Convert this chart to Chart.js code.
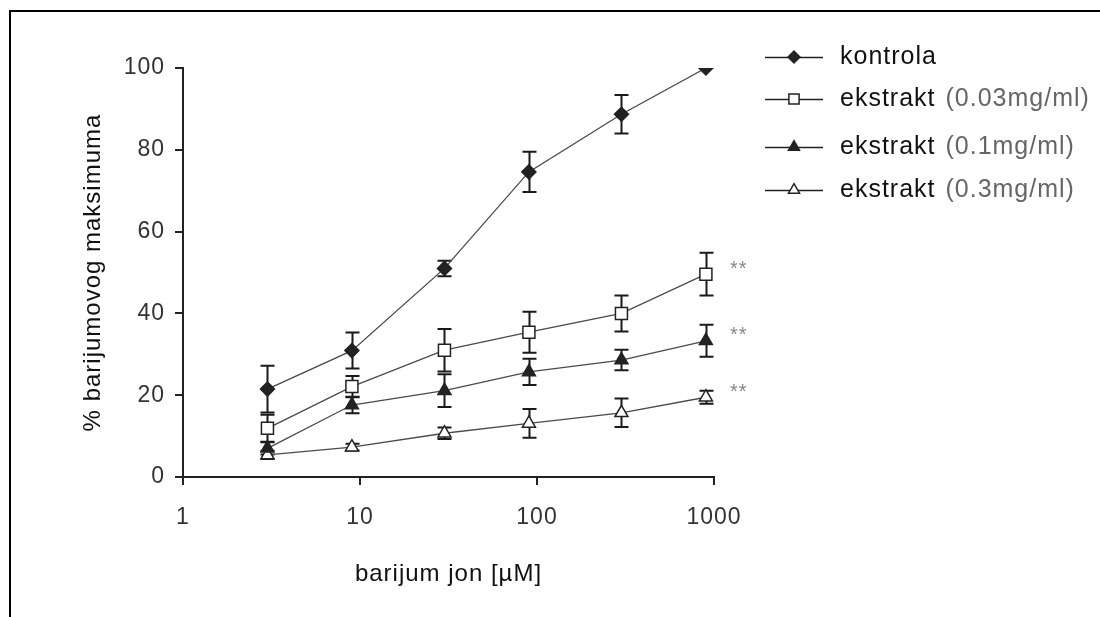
<!DOCTYPE html>
<html>
<head>
<meta charset="utf-8">
<script src="https://cdn.jsdelivr.net/npm/chart.js@4.4.1/dist/chart.umd.min.js"></script>
<style>
  html, body { margin: 0; padding: 0; background: #fff; }
  #wrap { position: relative; width: 1100px; height: 617px; }
</style>
</head>
<body>
<div id="wrap"><canvas id="c" width="1100" height="617"></canvas></div>
<script>
// ---- data ----
const concentrations = [3, 9, 30, 90, 300, 900];
const kontrola      = [21.5, 30.9, 51.0, 74.6, 88.7, 100];
const kontrolaErr   = [5.7, 4.4, 1.9, 4.9, 4.7, 0];
const ekstrakt003    = [11.9, 22.1, 31.0, 35.4, 40.0, 49.6];
const ekstrakt003Err = [3.3, 2.6, 5.2, 5.0, 4.4, 5.2];
const ekstrakt01     = [7.0, 17.6, 21.1, 25.7, 28.6, 33.3];
const ekstrakt01Err  = [1.5, 2.0, 4.0, 3.2, 2.5, 3.9];
const ekstrakt03     = [5.4, 7.3, 10.7, 13.1, 15.7, 19.5];
const ekstrakt03Err  = [1.0, 0.8, 1.4, 3.5, 3.5, 1.6];
const xTicks = [1, 10, 100, 1000];
const legendMain = ['kontrola', 'ekstrakt', 'ekstrakt', 'ekstrakt'];
const legendSub  = ['', '(0.03mg/ml)', '(0.1mg/ml)', '(0.3mg/ml)'];
const significance = ['', '**', '**', '**'];
const xTitle = 'barijum jon [µM]';
const yTitle = '% barijumovog maksimuma';

const seriesValues = [kontrola, ekstrakt003, ekstrakt01, ekstrakt03];
const seriesErrors = [kontrolaErr, ekstrakt003Err, ekstrakt01Err, ekstrakt03Err];

// ---- styles ----
const styles = [
  { pointStyle: 'rectRot', radius: 7, bg: '#222', border: '#222' },
  { pointStyle: 'rect', radius: 8.5, bg: '#fff', border: '#222' },
  { pointStyle: 'triangle', radius: 7.5, bg: '#222', border: '#222' },
  { pointStyle: 'triangle', radius: 7.5, bg: '#fff', border: '#222' }
];
const FONT = '"Liberation Sans", Arial, sans-serif';
const SPACING = '1px';
const FS_TICK = 23;
const FS_TITLE = 24;
const FS_LEGEND = 25;

const datasets = seriesValues.map((vals, i) => ({
  label: legendMain[i] + (legendSub[i] ? ' ' + legendSub[i] : ''),
  data: vals.map((v, j) => ({ x: concentrations[j], y: v })),
  errors: seriesErrors[i],
  borderColor: '#4a4a4a',
  borderWidth: 1.3,
  pointStyle: styles[i].pointStyle,
  pointRadius: styles[i].radius,
  pointBackgroundColor: styles[i].bg,
  pointBorderColor: styles[i].border,
  pointBorderWidth: 1.5,
  tension: 0,
  fill: false
}));

const spacingPlugin = {
  id: 'spacing',
  beforeUpdate(chart) { chart.ctx.letterSpacing = SPACING; },
  beforeLayout(chart) { chart.ctx.letterSpacing = SPACING; },
  beforeDraw(chart) { chart.ctx.letterSpacing = SPACING; }
};

const errorBars = {
  id: 'errorBars',
  beforeDatasetsDraw(chart) {
    const { ctx, scales: { x, y } } = chart;
    ctx.save();
    ctx.strokeStyle = '#1a1a1a';
    ctx.lineWidth = 2;
    chart.data.datasets.forEach(ds => {
      ds.data.forEach((p, j) => {
        const e = ds.errors[j];
        if (!e) return;
        const px = Math.round(x.getPixelForValue(p.x)) + 0.5;
        const top = y.getPixelForValue(p.y + e);
        const bot = y.getPixelForValue(p.y - e);
        const cap = 7;
        ctx.beginPath();
        ctx.moveTo(px, top); ctx.lineTo(px, bot);
        ctx.moveTo(px - cap, top); ctx.lineTo(px + cap, top);
        ctx.moveTo(px - cap, bot); ctx.lineTo(px + cap, bot);
        ctx.stroke();
      });
    });
    ctx.restore();
  }
};

function drawMarker(ctx, style, r, cx, cy) {
  if (style === 'rectRot') {
    ctx.moveTo(cx - r, cy); ctx.lineTo(cx, cy - r); ctx.lineTo(cx + r, cy); ctx.lineTo(cx, cy + r); ctx.closePath();
  } else if (style === 'rect') {
    const s = r * Math.SQRT1_2;
    ctx.rect(cx - s, cy - s, 2 * s, 2 * s);
  } else {
    const a = r * Math.sin(Math.PI / 3);
    ctx.moveTo(cx, cy - r); ctx.lineTo(cx + a, cy + r / 2); ctx.lineTo(cx - a, cy + r / 2); ctx.closePath();
  }
}

const extras = {
  id: 'extras',
  afterDraw(chart) {
    const { ctx, scales: { x, y } } = chart;
    ctx.save();
    // frame (top and left edges)
    ctx.strokeStyle = '#000';
    ctx.lineWidth = 2;
    ctx.beginPath();
    ctx.moveTo(10, 617); ctx.lineTo(10, 11); ctx.lineTo(1100, 11);
    ctx.stroke();

    // significance marks
    ctx.letterSpacing = '1px';
    ctx.fillStyle = '#888';
    ctx.font = '20px ' + FONT;
    ctx.textAlign = 'left';
    ctx.textBaseline = 'middle';
    chart.data.datasets.forEach((ds, i) => {
      if (!significance[i]) return;
      const last = ds.data[ds.data.length - 1];
      const px = x.getPixelForValue(last.x) + 24;
      const py = y.getPixelForValue(last.y) - 5;
      ctx.fillText(significance[i], px, py);
    });

    // legend
    ctx.letterSpacing = SPACING;
    const rows = [57, 99, 147, 190];
    chart.data.datasets.forEach((ds, i) => {
      const yy = rows[i];
      ctx.strokeStyle = '#222';
      ctx.lineWidth = 1.5;
      ctx.beginPath();
      ctx.moveTo(765, yy + 0.5); ctx.lineTo(823, yy + 0.5);
      ctx.stroke();
      ctx.fillStyle = ds.pointBackgroundColor;
      ctx.strokeStyle = ds.pointBorderColor;
      ctx.lineWidth = 1.5;
      ctx.beginPath();
      drawMarker(ctx, ds.pointStyle, ds.pointRadius * 0.85, 794, yy);
      ctx.fill(); ctx.stroke();

      ctx.font = FS_LEGEND + 'px ' + FONT;
      ctx.textBaseline = 'middle';
      ctx.fillStyle = '#111';
      ctx.fillText(legendMain[i], 840, yy);
      if (legendSub[i]) {
        const w = ctx.measureText(legendMain[i] + ' ').width;
        ctx.fillStyle = '#666';
        ctx.fillText(legendSub[i], 840 + w + 2, yy);
      }
    });
    ctx.restore();
  }
};

new Chart(document.getElementById('c'), {
  type: 'line',
  data: { datasets },
  options: {
    responsive: false,
    animation: false,
    events: [],
    layout: { padding: { left: 0, top: 68, right: 386, bottom: 0 } },
    plugins: { legend: { display: false }, tooltip: { enabled: false } },
    scales: {
      x: {
        type: 'logarithmic',
        min: 1, max: 1000,
        afterBuildTicks(scale) { scale.ticks = xTicks.map(v => ({ value: v })); },
        afterFit(scale) { scale.height = 140; },
        border: { display: true, color: '#222', width: 2 },
        grid: { drawOnChartArea: false, drawTicks: true, tickLength: 8, color: '#222', lineWidth: 2 },
        ticks: {
          color: '#333', padding: 19, maxRotation: 0, autoSkip: false,
          font: { family: FONT, size: FS_TICK },
          callback: v => String(v)
        },
        title: { display: true, text: xTitle, color: '#111', font: { family: FONT, size: FS_TITLE }, padding: { top: 0, bottom: 28 } }
      },
      y: {
        min: 0, max: 100,
        afterFit(scale) { scale.width = 183; },
        border: { display: true, color: '#222', width: 2 },
        grid: { drawOnChartArea: false, drawTicks: true, tickLength: 8, color: '#222', lineWidth: 2 },
        ticks: { stepSize: 20, color: '#333', padding: 10, font: { family: FONT, size: FS_TICK } },
        title: { display: true, text: yTitle, color: '#111', font: { family: FONT, size: FS_TITLE }, padding: { top: 79, bottom: 0 } }
      }
    }
  },
  plugins: [spacingPlugin, errorBars, extras]
});
</script>
</body>
</html>
